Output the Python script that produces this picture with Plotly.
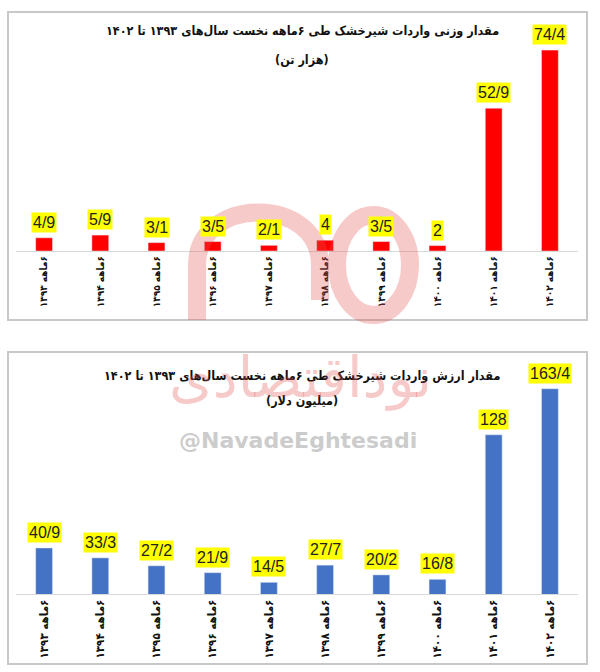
import plotly.graph_objects as go

categories = ["۶ماهه ۱۳۹۳", "۶ماهه ۱۳۹۴", "۶ماهه ۱۳۹۵", "۶ماهه ۱۳۹۶", "۶ماهه ۱۳۹۷",
              "۶ماهه ۱۳۹۸", "۶ماهه ۱۳۹۹", "۶ماهه ۱۴۰۰", "۶ماهه ۱۴۰۱", "۶ماهه ۱۴۰۲"]
weight_values = [4.9, 5.9, 3.1, 3.5, 2.1, 4, 3.5, 2, 52.9, 74.4]
value_values = [40.9, 33.3, 27.2, 21.9, 14.5, 27.7, 20.2, 16.8, 128, 163.4]
title_top = "مقدار وزنی واردات شیرخشک طی ۶ماهه نخست سال‌های ۱۳۹۳ تا ۱۴۰۲"
unit_top = "(هزار تن)"
title_bottom = "مقدار ارزش واردات شیرخشک طی ۶ماهه نخست سال‌های ۱۳۹۳ تا ۱۴۰۲"
unit_bottom = "(میلیون دلار)"
watermark_handle = "@NavadeEghtesadi"
watermark_name = "نوداقتصادی"

W, H = 600, 672
RLE, PDF = "\u202B", "\u202C"


def rtl(s):
    return RLE + s + PDF


def fmt(v):
    return f"{v:g}".replace(".", "/")


def px_x(p):
    return p / W


def px_y(p):
    return 1 - p / H


fig = go.Figure()
fig.add_trace(go.Bar(x=categories, y=weight_values, marker_color="#FF0000",
                     width=0.3, xaxis="x", yaxis="y", hoverinfo="skip"))
fig.add_trace(go.Bar(x=categories, y=value_values, marker_color="#4472C4",
                     width=0.3, xaxis="x2", yaxis="y2", hoverinfo="skip"))

annotations = []
for xr, yr, vals in (("x", "y", weight_values), ("x2", "y2", value_values)):
    for c, v in zip(categories, vals):
        annotations.append(dict(x=c, y=v, xref=xr, yref=yr, text=fmt(v), showarrow=False,
                                yanchor="bottom", yshift=5, bgcolor="#FFFF00", borderpad=1,
                                font=dict(family="Liberation Sans", size=16, color="#222222")))

tfont = dict(family="DejaVu Sans Condensed, DejaVu Sans", size=12.5, color="#111111", weight="bold")
for txt, yp in ((title_top, 31), (unit_top, 59), (title_bottom, 375), (unit_bottom, 400)):
    annotations.append(dict(x=px_x(302), y=px_y(yp), xref="paper", yref="paper", text=rtl(txt),
                            showarrow=False, xanchor="center", yanchor="middle", font=tfont))

# watermark
annotations.append(dict(x=px_x(298), y=px_y(440), xref="paper", yref="paper", text=watermark_handle,
                        showarrow=False, font=dict(family="DejaVu Sans", size=22, color="rgba(190,190,190,0.8)",
                                                   weight="bold")))
annotations.append(dict(x=px_x(300), y=px_y(378), xref="paper", yref="paper", text=rtl(watermark_name),
                        showarrow=False, font=dict(family="DejaVu Sans", size=56, color="rgba(230,80,80,0.3)")))

shapes = [
    dict(type="rect", xref="paper", yref="paper", x0=px_x(8), x1=px_x(587), y0=px_y(320), y1=px_y(12),
         line=dict(color="#C8C8C8", width=2), layer="below"),
    dict(type="rect", xref="paper", yref="paper", x0=px_x(8), x1=px_x(587), y0=px_y(664), y1=px_y(352),
         line=dict(color="#C8C8C8", width=2), layer="below"),
    # logo approximation
    dict(type="path", xref="paper", yref="paper",
         path=f"M {px_x(197)} {px_y(320)} L {px_x(197)} {px_y(265)} "
              f"C {px_x(197)} {px_y(195)}, {px_x(320)} {px_y(195)}, {px_x(320)} {px_y(265)} "
              f"L {px_x(320)} {px_y(300)}",
         line=dict(color="rgba(230,80,80,0.3)", width=18)),
    dict(type="circle", xref="paper", yref="paper", x0=px_x(337), x1=px_x(410), y0=px_y(315), y1=px_y(215),
         line=dict(color="rgba(230,80,80,0.3)", width=18)),
]


def xaxis_cfg(anchor, size):
    return dict(type="category", showgrid=False, zeroline=False, showline=True,
                linecolor="#D9D9D9", linewidth=1, ticks="", tickangle=-90, anchor=anchor,
                tickfont=dict(family="DejaVu Sans Condensed, DejaVu Sans", size=size, color="#111111",
                              weight="bold"),
                tickvals=categories, ticktext=[rtl(c) for c in categories],
                range=[-0.5, 9.5], domain=[px_x(16), px_x(578)])


fig.update_layout(
    width=W, height=H, margin=dict(l=0, r=0, t=0, b=0),
    paper_bgcolor="white", plot_bgcolor="rgba(0,0,0,0)", showlegend=False,
    xaxis=xaxis_cfg("y", 10),
    yaxis=dict(range=[0, (251 - 20) / 2.7], domain=[px_y(251), px_y(20)], visible=False, anchor="x"),
    xaxis2=xaxis_cfg("y2", 11.5),
    yaxis2=dict(range=[5.5, 5.5 + (594 - 360) / 1.3], domain=[px_y(594), px_y(360)], visible=False,
                anchor="x2"),
    annotations=annotations, shapes=shapes,
)

fig.write_html("out.html")
